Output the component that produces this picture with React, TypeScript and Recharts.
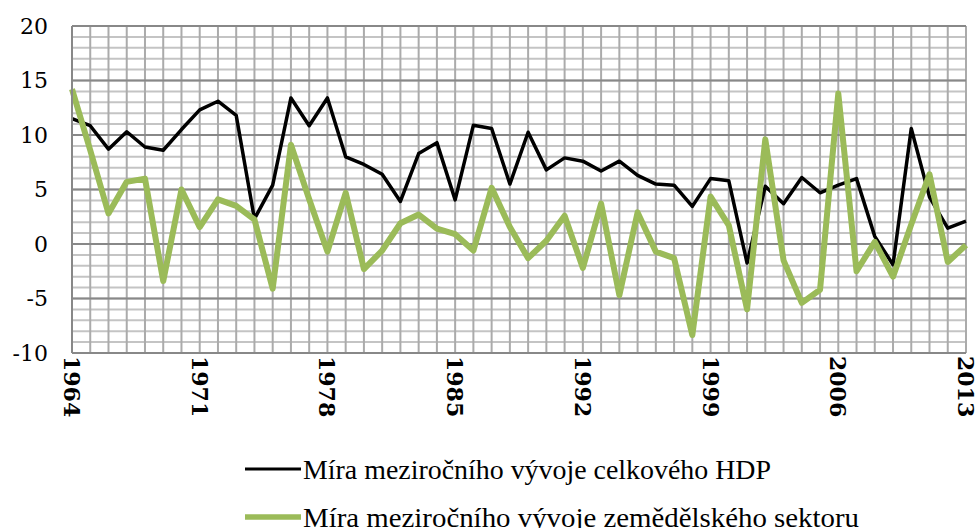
import { LineChart, Line, XAxis, YAxis, CartesianGrid, Legend } from 'recharts'

const years = [
  '1964', '1965', '1966', '1967', '1968', '1969', '1970', '1971', '1972', '1973',
  '1974', '1975', '1976', '1977', '1978', '1979', '1980', '1981', '1982', '1983',
  '1984', '1985', '1986', '1987', '1988', '1989', '1990', '1991', '1992', '1993',
  '1994', '1995', '1996', '1997', '1998', '1999', '2000', '2001', '2002', '2003',
  '2004', '2005', '2006', '2007', '2008', '2009', '2010', '2011', '2012', '2013',
]

// míra meziročního vývoje celkového HDP
const hdp = [
  11.5, 10.85, 8.7, 10.3, 8.9, 8.6, 10.5, 12.3, 13.1, 11.8,
  2.3, 5.4, 13.4, 10.85, 13.4, 8.0, 7.3, 6.4, 3.9, 8.3,
  9.3, 4.05, 10.9, 10.6, 5.5, 10.25, 6.8, 7.9, 7.6, 6.7,
  7.6, 6.3, 5.5, 5.4, 3.45, 6.0, 5.8, -1.75, 5.3, 3.7,
  6.1, 4.7, 5.4, 6.0, 0.7, -1.9, 10.6, 4.3, 1.45, 2.1,
]

// míra meziročního vývoje zemědělského sektoru
const agri = [
  14.2, 8.6, 2.8, 5.7, 6.0, -3.4, 5.0, 1.55, 4.1, 3.5,
  2.25, -4.1, 9.1, 4.1, -0.7, 4.7, -2.3, -0.6, 1.9, 2.7,
  1.4, 0.9, -0.6, 5.15, 1.55, -1.3, 0.3, 2.6, -2.2, 3.7,
  -4.7, 2.9, -0.7, -1.3, -8.35, 4.35, 1.7, -6.0, 9.6, -1.5,
  -5.4, -4.2, 13.8, -2.5, 0.2, -3.0, 1.8, 6.4, -1.65, -0.1,
]

const majorTicks = [-10, -5, 0, 5, 10, 15, 20]
const minorTicks = [
  -10, -9, -8, -7, -6, -5, -4, -3, -2, -1, 0, 1, 2, 3, 4, 5,
  6, 7, 8, 9, 10, 11, 12, 13, 14, 15, 16, 17, 18, 19, 20,
]

const series = [
  { key: 'hdp', name: 'Míra meziročního vývoje celkového HDP', color: '#000000', width: 3.5, textLen: 468 },
  { key: 'agri', name: 'Míra meziročního vývoje zemědělského sektoru', color: '#9BBB59', width: 6, textLen: 556 },
]

const data = years.map((year, i) => ({ year, hdp: hdp[i], agri: agri[i] }))

// run a value through an axis scale (d3 function or recharts wrapper)
const scaleOf = (axis: any, v: any) => {
  const s = axis?.scale
  if (!s) return NaN
  return typeof s === 'function' ? s(v) : s.map(v)
}

const minorRows = ({ yAxis }: any) => minorTicks.map((v) => scaleOf(yAxis, v))
const yearCols = ({ xAxis }: any) => years.map((y) => scaleOf(xAxis, y))

function YearTick({ x, y, payload }: any) {
  return (
    <text
      x={0}
      y={0}
      transform={`translate(${x},${y}) rotate(90)`}
      textAnchor="start"
      dominantBaseline="central"
      fontFamily="DejaVu Serif"
      fontWeight="bold"
      fontSize={22}
      fill="#000"
    >
      {payload.value}
    </text>
  )
}

function LegendBox() {
  return (
    <svg width={978} height={90} style={{ display: 'block' }}>
      {series.map((s, i) => (
        <g key={s.key} transform={`translate(0, ${24 + i * 48})`}>
          <line x1={245} x2={301} y1={0} y2={0} stroke={s.color} strokeWidth={s.width - 0.5} />
          <text
            x={303}
            y={0}
            dominantBaseline="central"
            fontFamily="Liberation Serif"
            fontSize={28}
            textLength={s.textLen}
            lengthAdjust="spacingAndGlyphs"
            fill="#000"
          >
            {s.name}
          </text>
        </g>
      ))}
    </svg>
  )
}

export default function App() {
  return (
    <div style={{ width: 978, height: 528, background: '#fff' }}>
      <style>{'body{margin:0}'}</style>
      <LineChart width={978} height={528} data={data} margin={{ top: 26, right: 12, bottom: 0, left: 0 }}>
        <CartesianGrid
          stroke="#c4c4c4"
          strokeWidth={2}
          vertical={false}
          horizontalCoordinatesGenerator={minorRows}
        />
        <CartesianGrid
          stroke="#ababab"
          strokeWidth={2}
          horizontal={false}
          verticalCoordinatesGenerator={yearCols}
        />
        <CartesianGrid stroke="#888888" strokeWidth={2} vertical={false} />
        <XAxis
          dataKey="year"
          interval={6}
          height={175}
          tick={<YearTick />}
          tickLine={false}
          tickSize={0}
          tickMargin={3}
          axisLine={{ stroke: '#888888', strokeWidth: 2 }}
        />
        <YAxis
          domain={[-10, 20]}
          ticks={majorTicks}
          width={72}
          tickLine={false}
          tickSize={0}
          tickMargin={24}
          axisLine={{ stroke: '#888888', strokeWidth: 2 }}
          tick={{ fill: '#000', fontFamily: 'DejaVu Serif', fontSize: 22 }}
        />
        <Legend
          layout="vertical"
          align="center"
          verticalAlign="middle"
          wrapperStyle={{ top: 445, left: 0, width: 978 }}
          content={<LegendBox />}
        />
        {series.map((s) => (
          <Line
            key={s.key}
            type="linear"
            dataKey={s.key}
            name={s.name}
            stroke={s.color}
            strokeWidth={s.width}
            strokeLinejoin="round"
            dot={false}
            activeDot={false}
            isAnimationActive={false}
          />
        ))}
      </LineChart>
    </div>
  )
}
